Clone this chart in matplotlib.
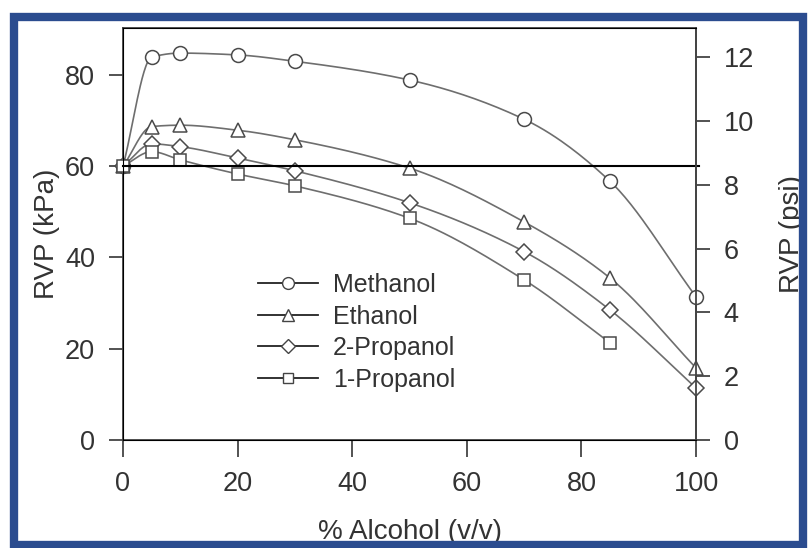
import numpy as np
import matplotlib
matplotlib.use("Agg")
import matplotlib.pyplot as plt
from matplotlib.patches import Rectangle

plt.rcParams["font.family"] = ["Liberation Sans", "DejaVu Sans"]

# Reid vapour pressure of gasoline/alcohol blends
alcohol_pct = [0, 5, 10, 20, 30, 50, 70, 85, 100]
methanol = [60.0, 83.9, 84.8, 84.4, 83.0, 78.9, 70.3, 56.7, 31.4]
ethanol = [60.0, 68.7, 69.0, 67.9, 65.8, 59.6, 47.8, 35.5, 15.8]
propanol_2 = [60.0, 64.9, 64.3, 61.8, 59.0, 52.0, 41.3, 28.5, 11.4]
alcohol_pct_1p = [0, 5, 10, 20, 30, 50, 70, 85]
propanol_1 = [60.0, 63.2, 61.4, 58.3, 55.7, 48.6, 35.1, 21.3]

series_names = ["Methanol", "Ethanol", "2-Propanol", "1-Propanol"]
series_markers = ["o", "^", "D", "s"]
x_ticks = [0, 20, 40, 60, 80, 100]
kpa_ticks = [0, 20, 40, 60, 80]
psi_ticks = [0, 2, 4, 6, 8, 10, 12]
rvp_limit = 60


def pchip(x, y, n=30):
    """Shape-preserving cubic curve through the measured points."""
    x = np.asarray(x, float)
    y = np.asarray(y, float)
    h = np.diff(x)
    d = np.diff(y) / h
    m = np.zeros_like(y)
    m[0], m[-1] = d[0], d[-1]
    for k in range(1, len(x) - 1):
        if d[k - 1] * d[k] <= 0:
            m[k] = 0.0
        else:
            w1 = 2 * h[k] + h[k - 1]
            w2 = h[k] + 2 * h[k - 1]
            m[k] = (w1 + w2) / (w1 / d[k - 1] + w2 / d[k])
    xs, ys = [], []
    for k in range(len(x) - 1):
        t = np.linspace(0, 1, n, endpoint=(k == len(x) - 2))
        h00 = 2 * t**3 - 3 * t**2 + 1
        h10 = t**3 - 2 * t**2 + t
        h01 = -2 * t**3 + 3 * t**2
        h11 = t**3 - t**2
        xs.append(x[k] + t * h[k])
        ys.append(h00 * y[k] + h10 * h[k] * m[k] + h01 * y[k + 1] + h11 * h[k] * m[k + 1])
    return np.concatenate(xs), np.concatenate(ys)


fig = plt.figure(figsize=(8.08, 5.48), dpi=100)
fig.patch.set_facecolor("white")
fig.patches.append(Rectangle((14 / 808, 1 - 545 / 548), 789 / 808, 528 / 548,
                             transform=fig.transFigure, fill=False,
                             edgecolor="#2b4c8f", linewidth=6, zorder=0))

ax = fig.add_axes([123 / 808, 1 - 440 / 548, 573 / 808, 412 / 548])
ax.set_xlim(0, 100)
ax.set_ylim(0, 90.3)

line_col = "#6e6e6e"
edge_col = "#4a4a4a"
text_col = "#333333"

data = [(alcohol_pct, methanol), (alcohol_pct, ethanol),
        (alcohol_pct, propanol_2), (alcohol_pct_1p, propanol_1)]
handles = []
for (xv, yv), name, mk in zip(data, series_names, series_markers):
    cx, cy = pchip(xv, yv)
    ax.plot(cx, cy, color=line_col, lw=1.2, zorder=2, clip_on=False)
    msize = {"o": 10, "^": 9.5, "D": 8, "s": 8.5}[mk]
    ax.plot(xv, yv, linestyle="none", marker=mk, markersize=msize,
            markerfacecolor="white", markeredgecolor=edge_col,
            markeredgewidth=1.1, zorder=3, clip_on=False)
    h, = ax.plot([], [], color="#222222", lw=1.3, marker=mk, markersize=msize * 0.85,
                 markerfacecolor="white", markeredgecolor="#444444",
                 markeredgewidth=1.0, label=name)
    handles.append(h)

ax.axhline(rvp_limit, xmin=0, xmax=1.006, color="black", lw=1.5, zorder=4, clip_on=False)

for s in ax.spines.values():
    s.set_color("#444444")
    s.set_linewidth(1.3)

fs = 19.5
lab_fs = 20
ax.set_xticks(x_ticks)
ax.set_yticks(kpa_ticks)
ax.tick_params(axis="both", direction="out", length=10, width=1.3,
               colors="#444444", labelcolor=text_col, labelsize=fs, pad=10)
ax.tick_params(axis="x", length=12, pad=10)
ax.set_xlabel("% Alcohol (v/v)", fontsize=lab_fs, color=text_col, labelpad=16)
ax.set_ylabel("RVP (kPa)", fontsize=lab_fs, color=text_col, labelpad=4)

ax2 = ax.twinx()
ax2.set_ylim(0, 12.92)
ax2.set_yticks(psi_ticks)
ax2.tick_params(axis="y", direction="out", length=10, width=1.3,
                colors="#444444", labelcolor=text_col, labelsize=fs, pad=10)
ax2.spines["right"].set_color("#444444")
ax2.spines["right"].set_linewidth(1.3)
ax2.set_ylabel("RVP (psi)", fontsize=lab_fs, color=text_col, labelpad=18)

lfs = 18
leg = ax.legend(handles=handles, loc="upper left", bbox_to_anchor=(0.235, 0.405),
                frameon=False, fontsize=lfs, handlelength=2.4, handletextpad=0.6,
                labelspacing=0.3, borderpad=0, borderaxespad=0)
for t in leg.get_texts():
    t.set_color(text_col)

fig.savefig("out.png", dpi=100)
